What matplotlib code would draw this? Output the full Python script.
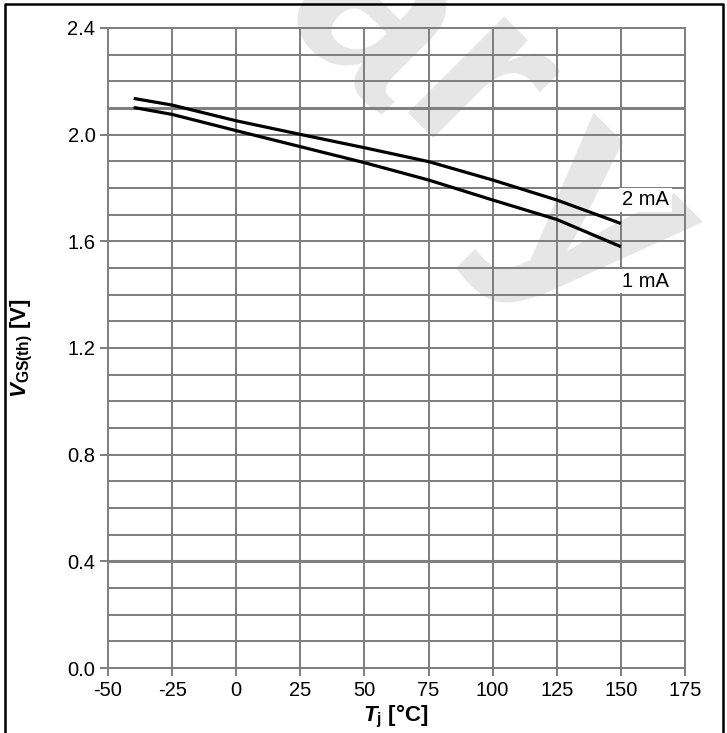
import matplotlib
matplotlib.use("Agg")
import matplotlib.pyplot as plt
from matplotlib.lines import Line2D

# values
tj = [-40, -25, 0, 25, 50, 75, 100, 125, 150]
vgs_2ma = [2.136, 2.111, 2.052, 2.001, 1.951, 1.899, 1.830, 1.755, 1.667]
vgs_1ma = [2.102, 2.076, 2.015, 1.955, 1.895, 1.830, 1.755, 1.682, 1.580]
x_ticks = [-50, -25, 0, 25, 50, 75, 100, 125, 150, 175]
y_ticks = [0.0, 0.4, 0.8, 1.2, 1.6, 2.0, 2.4]
y_grid = [i / 10 for i in range(25)]

plt.rcParams['font.family'] = ['Liberation Sans', 'DejaVu Sans']
plt.rcParams['mathtext.fontset'] = 'custom'
plt.rcParams['mathtext.rm'] = 'Liberation Sans'
plt.rcParams['mathtext.bf'] = 'Liberation Sans:bold'
plt.rcParams['mathtext.it'] = 'Liberation Sans:italic'
plt.rcParams['mathtext.bfit'] = 'Liberation Sans:italic:bold'

grid_col = '#808080'
W, H = 727, 733

fig = plt.figure(figsize=(W / 100, H / 100), dpi=100)
fig.patch.set_facecolor('white')
ax = fig.add_axes([108 / W, 1 - 668 / H, (685 - 108) / W, (668 - 28) / H])
ax.patch.set_visible(False)

# watermark letters (the rest of the word lies off the page)
for ch, px, py, fs in [('a', 372, 22, 185), ('r', 472, 100, 185), ('y', 592, 222, 205)]:
    ax.text(px / W, 1 - py / H, ch, transform=fig.transFigure, rotation=-45,
            rotation_mode='anchor', fontsize=fs, fontweight='bold', color='#e6e6e6',
            ha='center', va='center', clip_on=False, zorder=0.5)

# grid
for yv in y_grid:
    lw = 2.2 if round(yv, 1) in (0.4, 2.1) else 1.45
    ax.axhline(yv, color=grid_col, lw=lw, zorder=1)
ax.axhline(2.4, color=grid_col, lw=1.45, zorder=1, clip_on=False)
for xv in x_ticks:
    ax.axvline(xv, color=grid_col, lw=1.45, zorder=1, clip_on=False)

ax.plot(tj, vgs_2ma, color='black', lw=2.3, zorder=3, solid_capstyle='butt')
ax.plot(tj, vgs_1ma, color='black', lw=2.3, zorder=3, solid_capstyle='butt')

box = dict(facecolor='white', edgecolor='none', pad=2)
ax.text(150.5, 1.755, '2 mA', fontsize=14.5, ha='left', va='center', bbox=box, zorder=4)
ax.text(150.5, 1.451, '1 mA', fontsize=14.5, ha='left', va='center', bbox=box, zorder=4)

ax.set_xlim(-50, 175)
ax.set_ylim(0, 2.4)
ax.set_xticks(x_ticks)
ax.set_xticklabels([str(v) for v in x_ticks])
ax.set_yticks(y_ticks)
ax.set_yticklabels(['%.1f' % v for v in y_ticks])
ax.tick_params(axis='both', direction='out', length=6, width=1.45, color=grid_col,
               labelsize=14.5, pad=3)

for s in ax.spines.values():
    s.set_visible(False)
for s in ('left', 'bottom'):
    ax.spines[s].set_visible(True)
    ax.spines[s].set_color(grid_col)
    ax.spines[s].set_linewidth(1.45)

fig.text(396 / W, 1 - 716 / H, r'$\mathbfit{T}_{\mathbf{j}}$ [°C]', fontsize=16,
         fontweight='bold', ha='center', va='center')
fig.text(22 / W, 1 - 348 / H, r'$\mathbfit{V}_{\mathbf{GS(th)}}$ [V]', fontsize=16,
         fontweight='bold', ha='center', va='center', rotation=90)

# outer frame
fig.add_artist(Line2D([5 / W, 5 / W, 723 / W, 723 / W], [0, 1 - 4 / H, 1 - 4 / H, 0],
                      transform=fig.transFigure, color='black', lw=1.8))

fig.savefig('out.png', dpi=100)
